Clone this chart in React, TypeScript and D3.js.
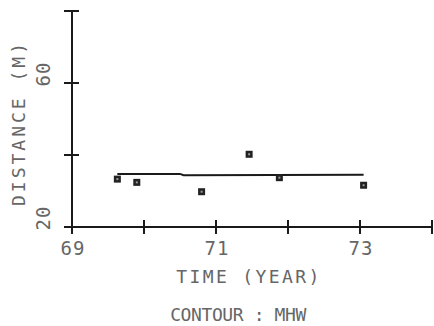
import React, { useEffect, useRef } from "react";
import * as d3 from "d3";

// survey years (decimal) and measured distance (m)
const years = [69.63, 69.9, 70.8, 71.46, 71.88, 73.05];
const distances = [33.3, 32.4, 29.8, 40.2, 33.7, 31.6];

// fitted trend line
const trendYears = [69.63, 70.5, 70.55, 73.05];
const trendValues = [34.7, 34.75, 34.4, 34.5];

const xTicks = [69, 70, 71, 72, 73, 74];
const xTickLabels = ["69", "", "71", "", "73", ""];
const yTicks = [20, 40, 60, 80];
const yTickLabels = ["20", "", "60", ""];

const xTitle = "TIME (YEAR)";
const yTitle = "DISTANCE (M)";
const caption = "CONTOUR : MHW";

const W = 434;
const H = 326;

const App = () => {
  const ref = useRef<SVGSVGElement | null>(null);

  useEffect(() => {
    const svg = d3.select(ref.current);
    svg.selectAll("*").remove();

    const x = d3.scaleLinear().domain([69, 74]).range([72, 432]);
    const y = d3.scaleLinear().domain([20, 80]).range([227, 11]);
    const font = "'DejaVu Sans Mono', monospace";
    const ink = "#1a1a1a";
    const textInk = "#666";

    // axes
    svg
      .append("line")
      .attr("x1", x(69))
      .attr("x2", x(74))
      .attr("y1", y(20))
      .attr("y2", y(20))
      .attr("stroke", ink)
      .attr("stroke-width", 2);
    svg
      .append("line")
      .attr("x1", x(69))
      .attr("x2", x(69))
      .attr("y1", y(20))
      .attr("y2", y(80))
      .attr("stroke", ink)
      .attr("stroke-width", 2);

    svg
      .selectAll(".xtick")
      .data(xTicks)
      .enter()
      .append("line")
      .attr("x1", (d) => x(d))
      .attr("x2", (d) => x(d))
      .attr("y1", y(20) - 7)
      .attr("y2", y(20) + 7)
      .attr("stroke", ink)
      .attr("stroke-width", 2);

    svg
      .selectAll(".ytick")
      .data(yTicks)
      .enter()
      .append("line")
      .attr("x1", x(69) - 8)
      .attr("x2", x(69) + 7)
      .attr("y1", (d) => y(d))
      .attr("y2", (d) => y(d))
      .attr("stroke", ink)
      .attr("stroke-width", 2);

    svg
      .selectAll(".xlab")
      .data(xTicks)
      .enter()
      .append("text")
      .attr("x", (d) => x(d) + 1)
      .attr("y", y(20) + 28)
      .attr("text-anchor", "middle")
      .style("font-family", font)
      .style("font-size", "19px")
      .style("letter-spacing", "1px")
      .attr("fill", textInk)
      .text((d, i) => xTickLabels[i]);

    svg
      .selectAll(".ylab")
      .data(yTicks)
      .enter()
      .append("text")
      .attr(
        "transform",
        (d) => `translate(${x(69) - 22},${y(d) - 9}) rotate(-90)`
      )
      .attr("text-anchor", "middle")
      .style("font-family", font)
      .style("font-size", "19px")
      .style("letter-spacing", "1px")
      .attr("fill", textInk)
      .text((d, i) => yTickLabels[i]);

    // trend line
    const line = d3
      .line<number>()
      .x((d) => x(d))
      .y((d, i) => y(trendValues[i]));
    svg
      .append("path")
      .attr("d", line(trendYears))
      .attr("fill", "none")
      .attr("stroke", ink)
      .attr("stroke-width", 2);

    // points
    const pts = svg
      .selectAll(".pt")
      .data(years)
      .enter()
      .append("g")
      .attr("transform", (d, i) => `translate(${x(d)},${y(distances[i])})`);
    pts
      .append("rect")
      .attr("x", -3.5)
      .attr("y", -3.5)
      .attr("width", 7)
      .attr("height", 7)
      .attr("fill", "#222");
    pts
      .append("rect")
      .attr("x", -1)
      .attr("y", -1)
      .attr("width", 2)
      .attr("height", 2)
      .attr("fill", "#999");

    // titles
    svg
      .append("text")
      .attr("x", 249)
      .attr("y", 283)
      .attr("text-anchor", "middle")
      .style("font-family", font)
      .style("font-size", "18px")
      .style("letter-spacing", "2.4px")
      .attr("fill", textInk)
      .text(xTitle);

    svg
      .append("text")
      .attr("x", 238)
      .attr("y", 321)
      .attr("text-anchor", "middle")
      .style("font-family", font)
      .style("font-size", "18px")
      .style("letter-spacing", "-0.4px")
      .attr("fill", textInk)
      .text(caption);

    svg
      .append("text")
      .attr("transform", "translate(25,123) rotate(-90)")
      .attr("text-anchor", "middle")
      .style("font-family", font)
      .style("font-size", "18px")
      .style("letter-spacing", "3px")
      .attr("fill", textInk)
      .text(yTitle);
  }, []);

  return (
    <svg
      ref={ref}
      width={W}
      height={H}
      style={{ position: "absolute", left: 0, top: 0, background: "#fff" }}
    />
  );
};

export default App;
